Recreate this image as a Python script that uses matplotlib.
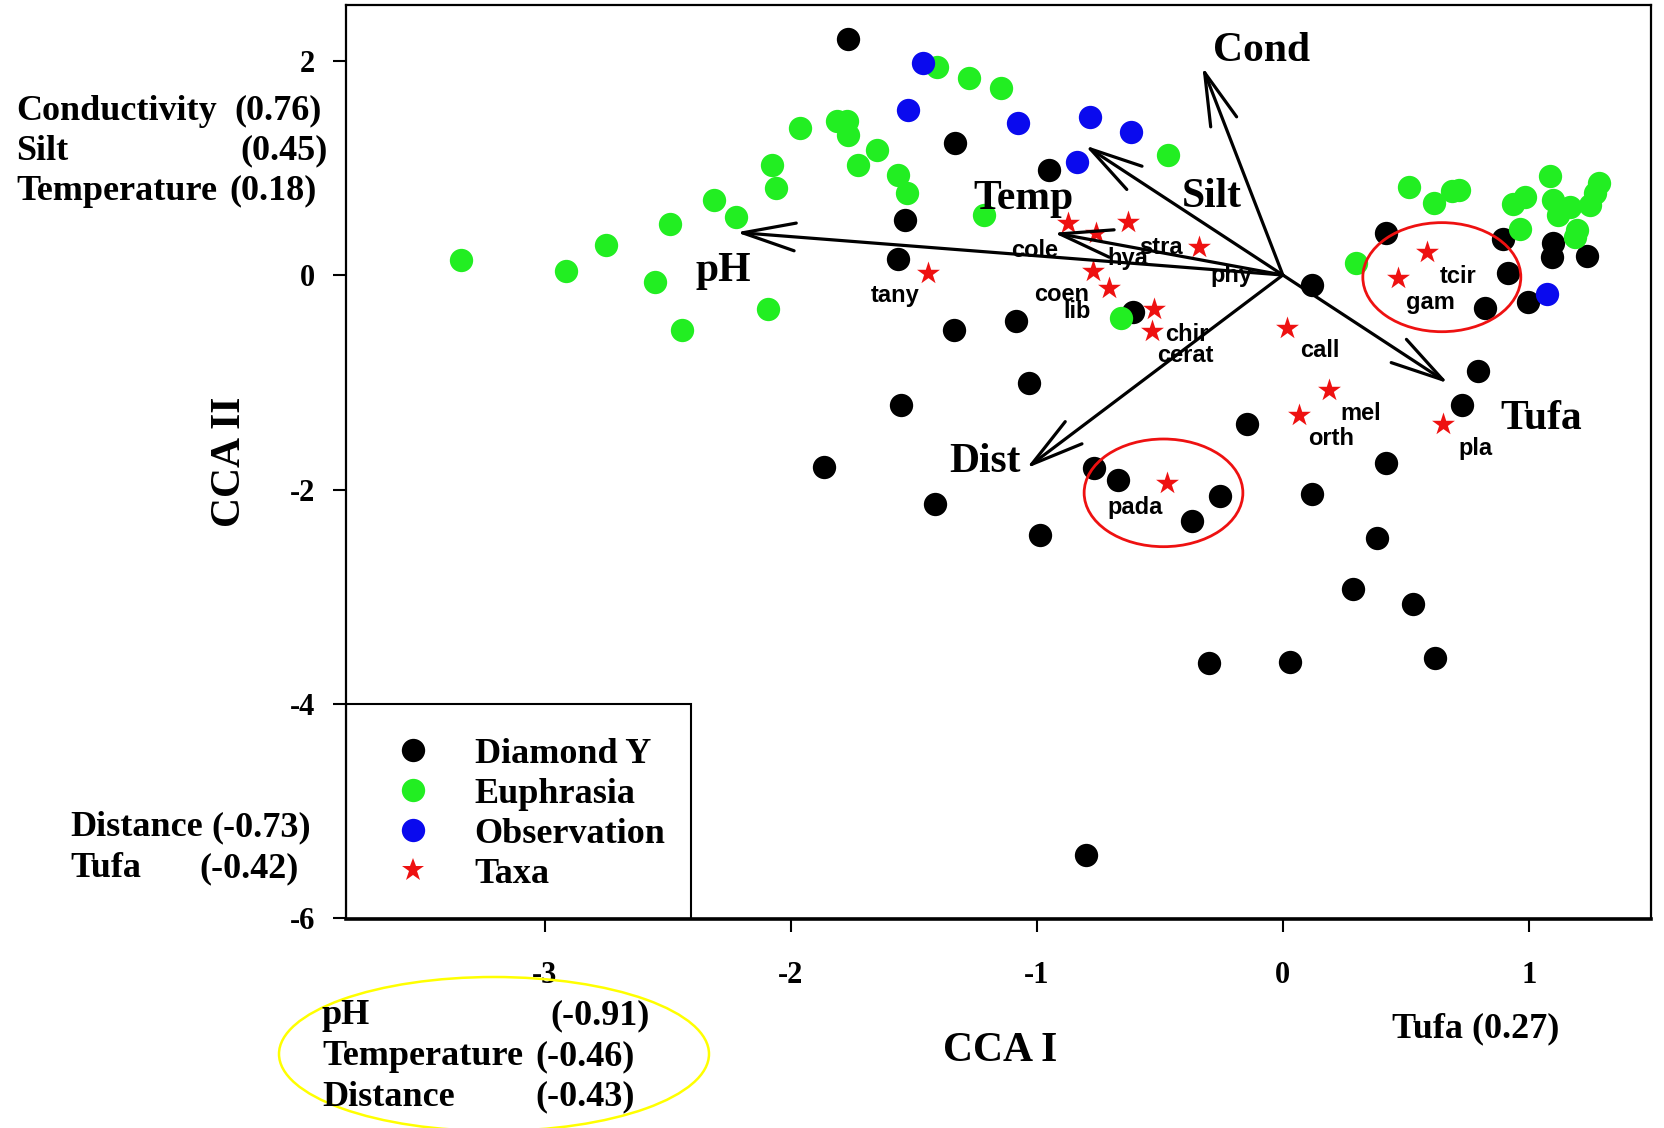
import matplotlib
matplotlib.use("Agg")
import matplotlib.pyplot as plt
from matplotlib.patches import Ellipse, Rectangle
from matplotlib.lines import Line2D
from matplotlib import font_manager

# ---------------- data ----------------
diamond_x = [-1.768, -1.331, -0.952, -1.535, -1.564, -1.336, -1.083, -0.610, -1.030, -1.550,
             -1.864, -1.414, -0.987, -0.767, -0.670, -0.370, -0.256, -0.146, 0.117, 0.117,
             0.419, 0.384, 0.286, 0.527, 0.617, -0.300, 0.028, -0.801, 0.419, 0.793,
             0.729, 0.822, 0.916, 0.896, 0.998, 1.097, 1.093, 1.235]
diamond_y = [2.198, 1.234, 0.982, 0.513, 0.146, -0.513, -0.429, -0.342, -1.004, -1.212,
             -1.789, -2.138, -2.424, -1.803, -1.911, -2.291, -2.058, -1.392, -0.093, -2.045,
             -1.756, -2.455, -2.928, -3.071, -3.568, -3.621, -3.605, -5.408, 0.389, -0.895,
             -1.212, -0.311, 0.021, 0.333, -0.249, 0.301, 0.171, 0.177]

euphrasia_x = [-3.338, -2.915, -2.750, -2.551, -2.443, -2.489, -2.311, -2.221, -2.091, -2.076,
               -2.061, -1.963, -1.813, -1.770, -1.766, -1.650, -1.725, -1.565, -1.528, -1.406,
               -1.275, -1.146, -1.213, -0.465, -0.657, 0.297, 0.514, 0.616, 0.686, 0.717,
               0.934, 0.984, 1.086, 1.099, 1.119, 1.167, 1.194, 1.187, 0.964, 1.286,
               1.269, 1.248]
euphrasia_y = [0.140, 0.035, 0.283, -0.065, -0.514, 0.480, 0.696, 0.541, -0.318, 1.026,
               0.808, 1.374, 1.436, 1.439, 1.305, 1.166, 1.026, 0.932, 0.762, 1.936,
               1.834, 1.741, 0.559, 1.119, -0.404, 0.115, 0.818, 0.669, 0.786, 0.793,
               0.662, 0.730, 0.923, 0.699, 0.559, 0.637, 0.420, 0.351, 0.426, 0.861,
               0.762, 0.653]

observation_x = [-1.461, -1.522, -1.075, -0.783, -0.618, -0.837, 1.075]
observation_y = [1.974, 1.538, 1.414, 1.476, 1.330, 1.051, -0.180]

taxa_names = ["tany", "cole", "hya", "stra", "phy", "coen", "lib", "chir", "cerat",
              "call", "mel", "orth", "pla", "tcir", "gam", "pada"]
taxa_x = [-1.441, -0.874, -0.760, -0.628, -0.339, -0.770, -0.705, -0.522, -0.533,
          0.018, 0.187, 0.066, 0.652, 0.587, 0.467, -0.469]
taxa_y = [0.020, 0.482, 0.394, 0.491, 0.258, 0.037, -0.118, -0.320, -0.522,
          -0.491, -1.072, -1.305, -1.389, 0.217, -0.031, -1.942]
taxa_label_x = [-1.576, -1.007, -0.630, -0.496, -0.208, -0.901, -0.835, -0.390, -0.397,
                0.151, 0.316, 0.195, 0.784, 0.713, 0.598, -0.601]
taxa_label_y = [-0.195, 0.233, 0.155, 0.258, 0.000, -0.186, -0.342, -0.550, -0.746,
                -0.708, -1.290, -1.523, -1.616, -0.016, -0.258, -2.170]

env_names = ["Cond", "Silt", "Temp", "pH", "Dist", "Tufa"]
env_x = [-0.327, -0.804, -0.932, -2.221, -1.042, 0.672]
env_y = [1.942, 1.208, 0.394, 0.398, -1.802, -1.010]
env_label_x = [-0.086, -0.290, -1.052, -2.273, -1.210, 1.048]
env_label_y = [2.085, 0.725, 0.708, 0.040, -1.745, -1.345]

xticks = [-3, -2, -1, 0, 1]
yticks = [-6, -4, -2, 0, 2]
legend_labels = ["Diamond Y", "Euphrasia", "Observation", "Taxa"]

axis2_pos = [("Conductivity", "(0.76)"), ("Silt", "(0.45)"), ("Temperature", "(0.18)")]
axis2_neg = [("Distance", "(-0.73)"), ("Tufa", "(-0.42)")]
axis1_neg = [("pH", "(-0.91)"), ("Temperature", "(-0.46)"), ("Distance", "(-0.43)")]
axis1_pos = "Tufa (0.27)"

# ---------------- style ----------------
SERIF = "Liberation Serif"
plt.rcParams["font.family"] = [SERIF, "DejaVu Serif"]
plt.rcParams["font.weight"] = "bold"
plt.rcParams["axes.unicode_minus"] = False

avail = {f.name for f in font_manager.fontManager.ttflist}
if "Liberation Sans Narrow" in avail:
    TAXA_FONT, TAXA_SIZE = ["Liberation Sans Narrow", "DejaVu Sans"], 21
else:
    TAXA_FONT, TAXA_SIZE = ["Liberation Sans", "DejaVu Sans"], 17

BLACK, GREEN, BLUE, RED = "#000000", "#22ee22", "#0a0aee", "#ee1111"

W, H = 1665, 1128
fig = plt.figure(figsize=(W / 100, H / 100), dpi=100)
ax = fig.add_axes([346 / W, 1 - 918.5 / H, 1305 / W, 913.2 / H])


def fpx(x, y):
    return x / W, 1 - y / H


ax.scatter(diamond_x, diamond_y, s=282, c=BLACK, linewidths=0, zorder=3)
ax.scatter(euphrasia_x, euphrasia_y, s=282, c=GREEN, linewidths=0, zorder=3.1)
ax.scatter(observation_x, observation_y, s=282, c=BLUE, linewidths=0, zorder=3.2)
ax.scatter(taxa_x, taxa_y, s=300, marker="*", c=RED, linewidths=0, zorder=3.3)

for name, x, y, lx, ly in zip(env_names, env_x, env_y, env_label_x, env_label_y):
    ax.annotate("", xy=(x, y), xytext=(0, 0),
                arrowprops=dict(arrowstyle="->,head_length=38,head_width=10",
                                mutation_scale=1, lw=2.3, color="black",
                                shrinkA=0, shrinkB=0),
                zorder=5)
    ax.text(lx, ly, name, fontsize=30, fontweight="bold", family=SERIF,
            ha="center", va="center", zorder=6)

for name, lx, ly in zip(taxa_names, taxa_label_x, taxa_label_y):
    ax.text(lx, ly, name, fontsize=TAXA_SIZE, fontweight="bold", family=TAXA_FONT,
            ha="center", va="center", zorder=6)

ax.add_patch(Ellipse((0.646, -0.020), 0.642, 1.017, fill=False, edgecolor=RED, lw=2.0, zorder=7))
ax.add_patch(Ellipse((-0.485, -2.031), 0.645, 1.004, fill=False, edgecolor=RED, lw=2.0, zorder=7))

ax.set_xlim(-3.807, 1.496)
ax.set_ylim(-6.0, 2.515)
ax.set_xticks(xticks)
ax.set_yticks(yticks)
ax.set_xticklabels([str(v) for v in xticks])
ax.set_yticklabels([str(v) for v in yticks])
ax.tick_params(axis="both", direction="out", length=9.4, width=1.5, labelsize=22)
ax.tick_params(axis="x", pad=21)
ax.tick_params(axis="y", pad=13)
for sp in ax.spines.values():
    sp.set_linewidth(1.6)
ax.spines["bottom"].set_linewidth(2.6)

ax.set_xlabel("CCA I", fontsize=30, fontweight="bold")
ax.xaxis.set_label_coords(0.501, -0.1451)
ax.xaxis.label.set_va("center")
ax.set_ylabel("CCA II", fontsize=30, fontweight="bold")
ax.yaxis.set_label_coords(-0.0886, 0.4999)
ax.yaxis.label.set_va("center")
ax.yaxis.label.set_ha("center")

# legend
handles = [
    Line2D([], [], ls="None", marker="o", markersize=16.8, markerfacecolor=BLACK, markeredgewidth=0),
    Line2D([], [], ls="None", marker="o", markersize=16.8, markerfacecolor=GREEN, markeredgewidth=0),
    Line2D([], [], ls="None", marker="o", markersize=16.8, markerfacecolor=BLUE, markeredgewidth=0),
    Line2D([], [], ls="None", marker="*", markersize=17.3, markerfacecolor=RED, markeredgewidth=0),
]
ax.legend(handles, legend_labels, loc="upper left", bbox_to_anchor=(0.0291, 0.1983),
          frameon=False, borderpad=0, borderaxespad=0, handlelength=1.6, handletextpad=0.91,
          labelspacing=0.19, prop=dict(family=SERIF, weight="bold", size=26))
ax.add_patch(Rectangle((0, 0), 0.2646, 0.2349, transform=ax.transAxes, fill=False,
                       edgecolor="black", lw=1.5, zorder=8))

# correlation annotations outside axes
FS = 26
for (left, right), y, rx in zip(axis2_pos, [111, 151, 191], [322, 328, 316.5]):
    fig.text(*fpx(16, y), left, fontsize=FS, fontweight="bold", ha="left", va="center")
    fig.text(*fpx(rx, y), right, fontsize=FS, fontweight="bold", ha="right", va="center")
for (left, right), y, rx in zip(axis2_neg, [828, 868.5], [310.6, 298.4]):
    fig.text(*fpx(70, y), left, fontsize=FS, fontweight="bold", ha="left", va="center")
    fig.text(*fpx(rx, y), right, fontsize=FS, fontweight="bold", ha="right", va="center")
for (left, right), y, rx in zip(axis1_neg, [1016, 1056.5, 1097], [650, 635, 635]):
    fig.text(*fpx(322, y), left, fontsize=FS, fontweight="bold", ha="left", va="center")
    fig.text(*fpx(rx, y), right, fontsize=FS, fontweight="bold", ha="right", va="center")
fig.text(*fpx(1476, 1029), axis1_pos, fontsize=FS, fontweight="bold", ha="center", va="center")

fig.add_artist(Ellipse(fpx(494, 1054), 430 / W, 154 / H, transform=fig.transFigure,
                       fill=False, edgecolor="#ffff00", lw=1.8))

fig.savefig("out.png", dpi=100)
